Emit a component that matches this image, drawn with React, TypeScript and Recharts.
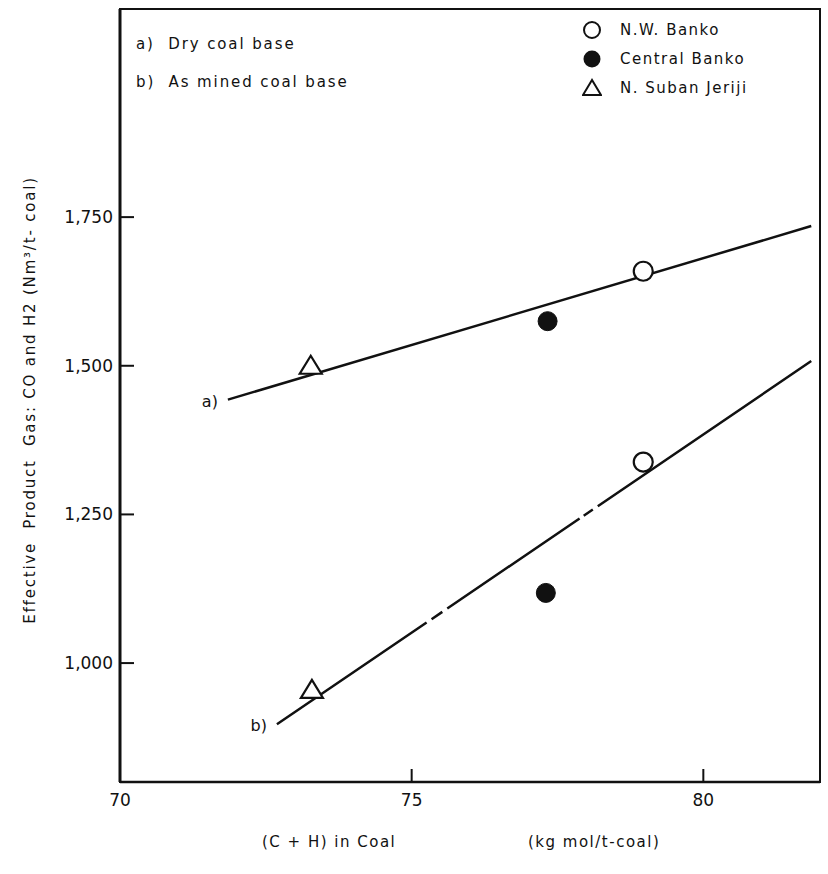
import React from "react";
import {
  ComposedChart,
  XAxis,
  YAxis,
  Line,
  Scatter,
  ReferenceArea,
  LabelList,
} from "recharts";

// axis setup
const xTicks = [70, 75, 80];
const yTicks = [1000, 1250, 1500, 1750];

// measured points: (C+H) in coal vs effective product gas
const nwBanko = [
  { x: 78.97, y: 1659 },
  { x: 78.97, y: 1338 },
];
const centralBanko = [
  { x: 77.33, y: 1575 },
  { x: 77.3, y: 1118 },
];
const nSubanJeriji = [
  { x: 73.27, y: 1500 },
  { x: 73.29, y: 955 },
];

// fitted lines, a) dry coal base, b) as mined coal base
const dryBaseFit = [
  { x: 71.85, y: 1443, tag: "a)" },
  { x: 81.85, y: 1735, tag: "" },
];
const minedBaseFit = [
  { x: 72.69, y: 897, tag: "b)" },
  { x: 81.85, y: 1508, tag: "" },
];

const basisNotes = ["a)  Dry coal base", "b)  As mined coal base"];
const seriesNames = ["N.W. Banko", "Central Banko", "N. Suban Jeriji"];

const INK = "#111";
const FONT = "'DejaVu Sans', sans-serif";

const OpenCircle = (p: any) => (
  <circle cx={p.cx} cy={p.cy} r={9.5} fill="#fff" stroke={INK} strokeWidth={2.2} />
);
const FilledCircle = (p: any) => (
  <circle cx={p.cx} cy={p.cy} r={9.5} fill={INK} stroke={INK} strokeWidth={1} />
);
const OpenTriangle = (p: any) => (
  <polygon
    points={`${p.cx},${p.cy - 10} ${p.cx - 11},${p.cy + 8} ${p.cx + 11},${p.cy + 8}`}
    fill="#fff"
    stroke={INK}
    strokeWidth={2.2}
  />
);

const YTick = (p: any) => {
  const { x, y, payload } = p;
  return (
    <g>
      <line x1={x + 7} x2={x + 21} y1={y} y2={y} stroke={INK} strokeWidth={2} />
      <text x={x} y={y} dy={6} textAnchor="end" fontSize={17} fill={INK} fontFamily={FONT}>
        {payload.value.toLocaleString("en-US")}
      </text>
    </g>
  );
};

const XTick = (p: any) => {
  const { x, y, payload } = p;
  return (
    <g>
      {payload.value !== 70 && (
        <line x1={x} x2={x} y1={y - 10} y2={y - 23} stroke={INK} strokeWidth={2} />
      )}
      <text x={x} y={y} dy={14} textAnchor="middle" fontSize={17} fill={INK} fontFamily={FONT}>
        {payload.value}
      </text>
    </g>
  );
};

const lineTag = (p: any) => {
  if (!p.value) return null;
  return (
    <text
      x={p.x - 10}
      y={p.y + 7}
      textAnchor="end"
      fontSize={16}
      fill={INK}
      fontFamily={FONT}
    >
      {p.value}
    </text>
  );
};

const legendIcon = (i: number) => {
  if (i === 0) return <circle cx={10} cy={10} r={8} fill="#fff" stroke={INK} strokeWidth={2} />;
  if (i === 1) return <circle cx={10} cy={10} r={8.5} fill={INK} />;
  return <polygon points="10,2 1,17 19,17" fill="#fff" stroke={INK} strokeWidth={2} />;
};

const textStyle: React.CSSProperties = {
  position: "absolute",
  fontFamily: FONT,
  fontSize: 15,
  letterSpacing: 1.5,
  color: INK,
  lineHeight: "20px",
  whiteSpace: "pre",
};

export default function App() {
  return (
    <div style={{ position: "relative", width: 828, height: 874, background: "#fff" }}>
      <style>{"body{margin:0;background:#fff}"}</style>
      <ComposedChart
        width={828}
        height={874}
        margin={{ top: 9, right: 8, left: 0, bottom: 0 }}
      >
        <XAxis
          dataKey="x"
          type="number"
          domain={[70, 82]}
          ticks={xTicks}
          height={92}
          tickSize={0}
          tickMargin={10}
          axisLine={{ stroke: INK, strokeWidth: 2.5 }}
          tick={<XTick />}
          allowDataOverflow
        />
        <YAxis
          type="number"
          domain={[800, 2100]}
          ticks={yTicks}
          width={120}
          tickSize={0}
          tickMargin={7}
          axisLine={{ stroke: INK, strokeWidth: 3 }}
          tick={<YTick />}
          allowDataOverflow
        />
        <ReferenceArea
          x1={70}
          x2={82}
          y1={800}
          y2={2100}
          fill="none"
          fillOpacity={0}
          stroke={INK}
          strokeWidth={2}
        />
        <Line
          data={dryBaseFit}
          dataKey="y"
          stroke={INK}
          strokeWidth={2.5}
          dot={false}
          isAnimationActive={false}
        >
          <LabelList dataKey="tag" content={lineTag} />
        </Line>
        <Line
          data={minedBaseFit}
          dataKey="y"
          stroke={INK}
          strokeWidth={2.5}
          strokeDasharray="181 6 13 6 160 5 11 6 2000"
          dot={false}
          isAnimationActive={false}
        >
          <LabelList dataKey="tag" content={lineTag} />
        </Line>
        <Scatter data={nwBanko} dataKey="y" shape={OpenCircle} isAnimationActive={false} />
        <Scatter data={centralBanko} dataKey="y" shape={FilledCircle} isAnimationActive={false} />
        <Scatter data={nSubanJeriji} dataKey="y" shape={OpenTriangle} isAnimationActive={false} />
      </ComposedChart>

      {basisNotes.map((t, i) => (
        <div key={t} style={{ ...textStyle, left: 136, top: 34 + i * 38, letterSpacing: 1.9 }}>
          {t}
        </div>
      ))}

      {seriesNames.map((name, i) => (
        <div
          key={name}
          style={{ ...textStyle, left: 582, top: 20 + i * 29, display: "flex", alignItems: "center" }}
        >
          <svg width={20} height={20} style={{ marginRight: 18 }}>
            {legendIcon(i)}
          </svg>
          {name}
        </div>
      ))}

      <div
        style={{
          ...textStyle,
          left: -210,
          top: 390,
          width: 480,
          textAlign: "center",
          letterSpacing: 1.8,
          transform: "rotate(-90deg)",
          transformOrigin: "center",
        }}
      >
        Effective  Product  Gas: CO and H2 (Nm³/t- coal)
      </div>

      <div style={{ ...textStyle, left: 262, top: 832 }}>(C + H) in Coal</div>
      <div style={{ ...textStyle, left: 528, top: 832 }}>(kg mol/t-coal)</div>
    </div>
  );
}
